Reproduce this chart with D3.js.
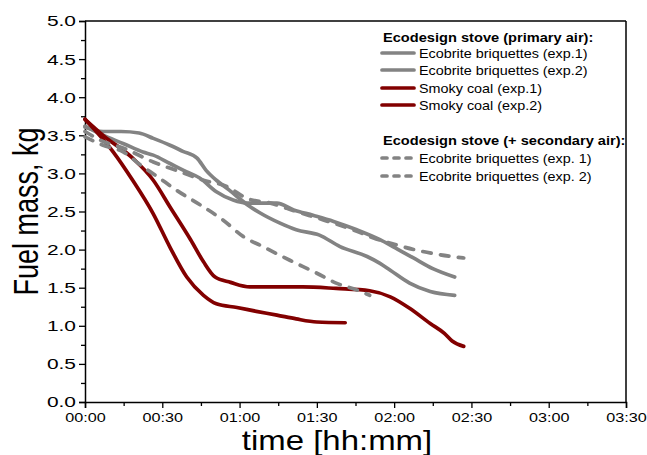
<!DOCTYPE html>
<html>
<head>
<meta charset="utf-8">
<script src="https://cdn.jsdelivr.net/npm/d3@7"></script>
<style>
  body { margin: 0; background: #fff; }
  svg { display: block; font-family: "Liberation Sans", Arial, sans-serif; }
  .legend-text { font-size: 12.5px; fill: #000; }
  .legend-title { font-size: 12.5px; font-weight: bold; fill: #000; }
</style>
</head>
<body>
<svg id="chart"></svg>
<script>
// time in minutes, fuel mass in kg
const briqExp1 = [
  [0, 3.61], [7, 3.55], [14, 3.55], [21, 3.53], [26.5, 3.46], [33, 3.37], [38, 3.29],
  [43.5, 3.2], [47, 3.04], [51, 2.91], [56, 2.78], [63, 2.59], [68, 2.48], [75.5, 2.35],
  [82, 2.26], [91, 2.19], [99, 2.04], [109.5, 1.91], [114.5, 1.82], [118.5, 1.73],
  [126, 1.56], [134, 1.45], [143.5, 1.4]
];
const briqExp2 = [
  [0, 3.62], [7, 3.5], [15, 3.39], [22.5, 3.28], [26.5, 3.24], [33, 3.13], [39.5, 3.02],
  [44.5, 2.94], [51, 2.76], [57.5, 2.65], [63, 2.61], [74.5, 2.61], [81, 2.52],
  [88.5, 2.45], [96.5, 2.37], [105.5, 2.26], [114.5, 2.13], [119.5, 2.04],
  [127.5, 1.89], [135, 1.75], [143.5, 1.64]
];
const coalExp1 = [
  [0, 3.71], [11, 3.28], [18.5, 2.91], [26.5, 2.47], [33, 2.03], [39.5, 1.64],
  [46, 1.4], [51, 1.29], [59, 1.24], [66.5, 1.19], [74.5, 1.14], [82, 1.09],
  [90, 1.05], [101, 1.04]
];
const coalExp2 = [
  [0, 3.71], [7, 3.5], [18.5, 3.2], [26.5, 2.91], [33, 2.56], [41, 2.13], [46, 1.84],
  [50.5, 1.64], [56.5, 1.57], [64, 1.51], [74.5, 1.51], [84.5, 1.51], [97.5, 1.49],
  [110.5, 1.46], [118.5, 1.38], [126, 1.23], [134, 1.03], [139.5, 0.9],
  [142.5, 0.8], [147, 0.73]
];
const secBriqExp1 = [
  [0, 3.55], [7, 3.42], [15, 3.33], [26.5, 3.15], [37, 3.02], [46, 2.91], [55, 2.83],
  [63, 2.67], [72, 2.61], [82, 2.5], [92.5, 2.39], [104, 2.26], [113, 2.14],
  [121, 2.06], [129, 1.99], [136.5, 1.94], [147, 1.89]
];
const secBriqExp2 = [
  [0, 3.48], [7, 3.37], [15, 3.28], [21.5, 3.11], [28, 2.96], [35.5, 2.78], [46, 2.56],
  [53.5, 2.39], [61.5, 2.17], [69, 2.04], [79.5, 1.86], [90, 1.69], [97.5, 1.56],
  [105.5, 1.47], [110.5, 1.4]
];

const seriesNames = [
  "Ecobrite briquettes (exp.1)", "Ecobrite briquettes (exp.2)",
  "Smoky coal (exp.1)", "Smoky coal (exp.2)",
  "Ecobrite briquettes (exp. 1)", "Ecobrite briquettes (exp. 2)"
];
const legendTitles = ["Ecodesign stove (primary air):", "Ecodesign stove (+ secondary air):"];
const xTickValues = [0, 30, 60, 90, 120, 150, 180, 210];
const xTickLabels = ["00:00", "00:30", "01:00", "01:30", "02:00", "02:30", "03:00", "03:30"];
const yTickValues = [0, 0.5, 1, 1.5, 2, 2.5, 3, 3.5, 4, 4.5, 5];

const GRAY = "#838383", RED = "#820000";
const series = [
  { name: seriesNames[0], data: briqExp1, color: GRAY, dashed: false },
  { name: seriesNames[1], data: briqExp2, color: GRAY, dashed: false },
  { name: seriesNames[2], data: coalExp1, color: RED, dashed: false },
  { name: seriesNames[3], data: coalExp2, color: RED, dashed: false },
  { name: seriesNames[4], data: secBriqExp1, color: GRAY, dashed: true },
  { name: seriesNames[5], data: secBriqExp2, color: GRAY, dashed: true }
];

const width = 647, height = 455;
const margin = { top: 21, right: 21, bottom: 53, left: 85 };
const innerW = width - margin.left - margin.right;
const innerH = height - margin.top - margin.bottom;

const svg = d3.select("#chart").attr("width", width).attr("height", height);
const chart = svg.append("g").attr("transform", `translate(${margin.left},${margin.top})`);

const xScale = d3.scaleLinear().domain([0, 210]).range([0, innerW]);
const yScale = d3.scaleLinear().domain([0, 5]).range([innerH, 0]);

// minor ticks
chart.append("g")
  .attr("transform", `translate(0,${innerH})`)
  .call(d3.axisBottom(xScale).tickValues(d3.range(15, 210, 30)).tickSize(4).tickFormat(""))
  .call(g => g.select(".domain").remove());
chart.append("g")
  .call(d3.axisLeft(yScale).tickValues(d3.range(0.25, 5, 0.5)).tickSize(4).tickFormat(""))
  .call(g => g.select(".domain").remove());

// major axes
const xAxisG = chart.append("g")
  .attr("transform", `translate(0,${innerH})`)
  .call(d3.axisBottom(xScale).tickValues(xTickValues).tickSize(6).tickPadding(4)
    .tickFormat((d, i) => xTickLabels[i]));
xAxisG.selectAll("text")
  .style("font-size", "13.5px")
  .attr("fill", "#000")
  .attr("transform", "scale(1.2,1)");

const yAxisG = chart.append("g")
  .call(d3.axisLeft(yScale).tickValues(yTickValues).tickSize(6).tickPadding(3)
    .tickFormat(d3.format(".1f")));
yAxisG.selectAll("text")
  .style("font-size", "15.5px")
  .attr("fill", "#000")
  .attr("transform", function() {
    const x = +this.getAttribute("x");
    return `translate(${x},0) scale(1.35,1) translate(${-x},0)`;
  });

chart.selectAll(".domain").attr("stroke", "#000").attr("stroke-width", 1.5);
chart.selectAll(".tick line").attr("stroke", "#000").attr("stroke-width", 1.3);

// frame top / right
chart.append("line").attr("x1", 0).attr("x2", innerW).attr("y1", 0).attr("y2", 0)
  .attr("stroke", "#000").attr("stroke-width", 1.5);
chart.append("line").attr("x1", innerW).attr("x2", innerW).attr("y1", 0).attr("y2", innerH)
  .attr("stroke", "#000").attr("stroke-width", 1.5);

// lines
const line = d3.line()
  .x(d => xScale(d[0]))
  .y(d => yScale(d[1]))
  .curve(d3.curveMonotoneX);

chart.selectAll(".series")
  .data(series)
  .join("path")
  .attr("class", "series")
  .attr("d", d => line(d.data))
  .attr("fill", "none")
  .attr("stroke", d => d.color)
  .attr("stroke-width", 3.7)
  .attr("stroke-linecap", "round")
  .attr("stroke-linejoin", "round")
  .attr("stroke-dasharray", d => d.dashed ? "8.5,9.5" : null);

// axis titles
svg.append("text")
  .attr("transform", `translate(38,${margin.top + innerH / 2}) scale(1.3,1) rotate(-90)`)
  .attr("text-anchor", "middle")
  .style("font-size", "27px")
  .text("Fuel mass, kg");

svg.append("text")
  .attr("transform", `translate(337,450) scale(1.22,1)`)
  .attr("text-anchor", "middle")
  .style("font-size", "27px")
  .text("time [hh:mm]");

// legend
const legend = svg.append("g");
const rowY = [53, 70, 88, 105, 158, 176];
legend.append("text").attr("class", "legend-title")
  .attr("transform", `translate(383,42) scale(1.17,1)`).text(legendTitles[0]);
legend.append("text").attr("class", "legend-title")
  .attr("transform", `translate(383,145) scale(1.17,1)`).text(legendTitles[1]);

series.forEach((s, i) => {
  legend.append("line")
    .attr("x1", 382).attr("x2", 414)
    .attr("y1", rowY[i]).attr("y2", rowY[i])
    .attr("stroke", s.color)
    .attr("stroke-width", 3.7)
    .attr("stroke-linecap", "round")
    .attr("stroke-dasharray", s.dashed ? "5,7" : null);
  legend.append("text")
    .attr("class", "legend-text")
    .attr("transform", `translate(419,${rowY[i] + 4.5}) scale(1.15,1)`)
    .text(s.name);
});
</script>
</body>
</html>
